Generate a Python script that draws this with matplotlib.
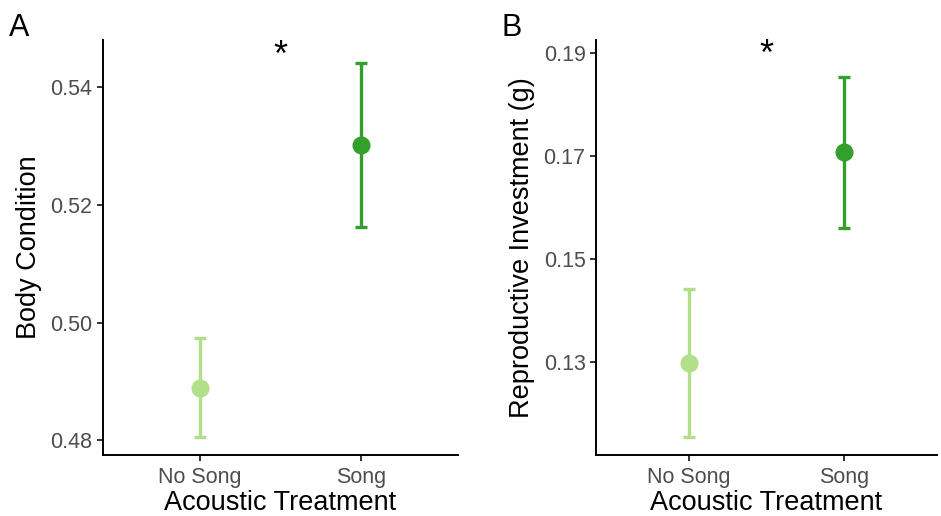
import matplotlib
matplotlib.use("Agg")
import matplotlib.pyplot as plt

plt.rcParams['font.family'] = ['Liberation Sans', 'DejaVu Sans']

# 数据
groups = ['No Song', 'Song']
colors = ['#b2df8a', '#33a02c']

body_mean = [0.4888, 0.5301]
body_low = [0.4805, 0.5162]
body_high = [0.4973, 0.5441]

repro_mean = [0.1298, 0.1708]
repro_low = [0.1154, 0.1560]
repro_high = [0.1442, 0.1853]

fig = plt.figure(figsize=(9.41, 5.16), dpi=100)
W, H = 941, 516


def make_ax(left, right, top, bottom):
    return fig.add_axes([left / W, 1 - bottom / H, (right - left) / W, (bottom - top) / H])


def draw_panel(ax, mean, low, high, ylim, yticks, ylabel, star_y, letter, letter_x):
    for i in range(len(groups)):
        ax.errorbar(i + 1, mean[i], yerr=[[mean[i] - low[i]], [high[i] - mean[i]]],
                    fmt='o', color=colors[i], ms=12, elinewidth=2.4, capsize=4,
                    capthick=2.4, zorder=3)
    ax.set_xlim(0.4, 2.6)
    ax.set_ylim(*ylim)
    ax.set_xticks([1, 2])
    ax.set_xticklabels(groups)
    ax.set_yticks(yticks)
    ax.set_yticklabels(['%.2f' % t for t in yticks])
    ax.spines['top'].set_visible(False)
    ax.spines['right'].set_visible(False)
    ax.spines['left'].set_linewidth(1.4)
    ax.spines['bottom'].set_linewidth(1.4)
    ax.tick_params(axis='both', length=4, width=1.4, color='#333333',
                   labelcolor='#4d4d4d', labelsize=15.5, pad=3.5)
    ax.tick_params(axis='x', pad=5)
    ax.set_xlabel('Acoustic Treatment', fontsize=19.5, labelpad=1)
    ax.set_ylabel(ylabel, fontsize=19.5, labelpad=6)
    ax.text(1.5, star_y, '*', fontsize=26, ha='center', va='center')
    fig.text(letter_x / W, 1 - 28 / H, letter, fontsize=22, ha='left', va='center')


ax1 = make_ax(103, 458, 40, 455)
draw_panel(ax1, body_mean, body_low, body_high, (0.4775, 0.548),
           [0.48, 0.50, 0.52, 0.54], 'Body Condition', 0.5452, 'A', 9)

ax2 = make_ax(596, 937, 40, 455)
draw_panel(ax2, repro_mean, repro_low, repro_high, (0.112, 0.1925),
           [0.13, 0.15, 0.17, 0.19], 'Reproductive Investment (g)', 0.1895, 'B', 502)

fig.savefig('out.png', dpi=100)
